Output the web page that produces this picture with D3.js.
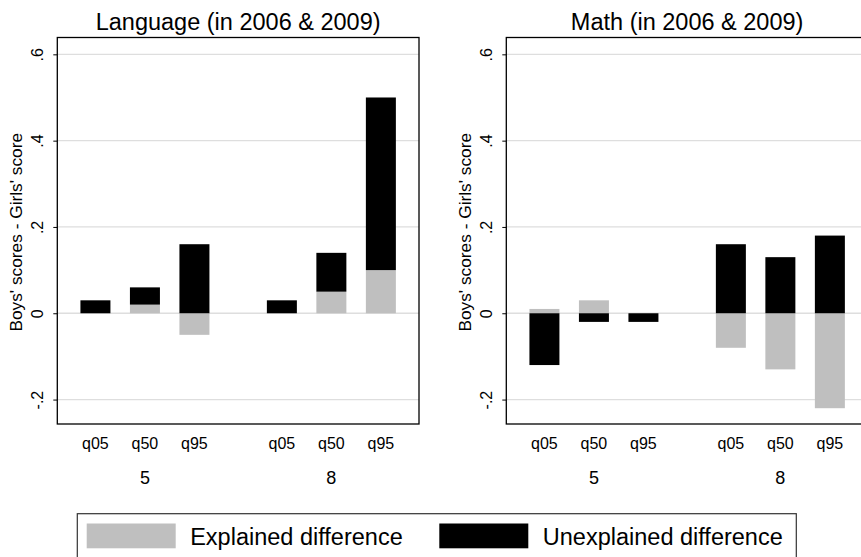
<!DOCTYPE html>
<html>
<head>
<meta charset="utf-8">
<script src="https://cdn.jsdelivr.net/npm/d3@7"></script>
<style>
  html, body { margin: 0; padding: 0; background: #fff; }
  svg { display: block; font-family: "Liberation Sans", Arial, Helvetica, sans-serif; }
</style>
</head>
<body>
<svg id="chart" width="861" height="557"></svg>
<script>
// ---------------- data ----------------
const grades = ["5", "8"];
const quantiles = ["q05", "q50", "q95"];
const seriesNames = ["Explained difference", "Unexplained difference"];
const seriesKeys = ["explained", "unexplained"];
const panelTitles = ["Language (in 2006 & 2009)", "Math (in 2006 & 2009)"];

// order: grade 5 (q05,q50,q95), grade 8 (q05,q50,q95)
const languageExplained   = [0.00, 0.02, -0.05, 0.00, 0.05, 0.10];
const languageUnexplained = [0.03, 0.04,  0.16, 0.03, 0.09, 0.40];
const mathExplained       = [0.01, 0.03,  0.00, -0.08, -0.13, -0.22];
const mathUnexplained     = [-0.12, -0.02, -0.02, 0.16, 0.13, 0.18];

const yTicks = [-0.2, 0, 0.2, 0.4, 0.6];
const yTickLabels = ["-.2", "0", ".2", ".4", ".6"];
const yAxisTitle = "Boys' scores - Girls' score";

// ---------------- layout ----------------
const svg = d3.select("#chart");
const colors = { explained: "#bfbfbf", unexplained: "#000000" };
const panelLeft = [57.3, 506.3];
const panelW = 361.7;
const plotTop = 37.5, plotBottom = 424;

function buildRows(expl, unexpl) {
  const rows = [];
  grades.forEach((g, gi) => quantiles.forEach((q, qi) => {
    const i = gi * quantiles.length + qi;
    rows.push({ grade: g, q: q, explained: expl[i], unexplained: unexpl[i] });
  }));
  return rows;
}

const panels = [
  buildRows(languageExplained, languageUnexplained),
  buildRows(mathExplained, mathUnexplained)
];

const y = d3.scaleLinear().domain([-0.2566, 0.639]).range([plotBottom, plotTop]);
const xGroup = d3.scalePoint().domain(grades).range([0, panelW]).padding(0.47);
const xInner = d3.scaleBand().domain(quantiles).range([-64.5, 64.5]).paddingInner(0.394).paddingOuter(0);

const stack = d3.stack().keys(seriesKeys).offset(d3.stackOffsetDiverging);

panels.forEach((rows, pi) => {
  const g = svg.append("g").attr("transform", `translate(${panelLeft[pi]},0)`);

  // title
  g.append("text")
    .attr("x", panelW / 2).attr("y", 29.5)
    .attr("text-anchor", "middle")
    .attr("font-size", 23.5)
    .attr("fill", "#000")
    .text(panelTitles[pi]);

  // gridlines
  g.append("g").selectAll("line").data(yTicks).join("line")
    .attr("x1", 0).attr("x2", panelW)
    .attr("y1", d => y(d)).attr("y2", d => y(d))
    .attr("stroke", "#dedede").attr("stroke-width", 1.3);

  // bars
  const stacked = stack(rows);
  g.append("g").selectAll("g").data(stacked).join("g")
    .attr("fill", d => colors[d.key])
    .selectAll("rect").data(d => d).join("rect")
      .attr("x", d => xGroup(d.data.grade) + xInner(d.data.q))
      .attr("width", xInner.bandwidth())
      .attr("y", d => y(Math.max(d[0], d[1])))
      .attr("height", d => Math.abs(y(d[0]) - y(d[1])));

  // y axis
  const yAxis = d3.axisLeft(y).tickValues(yTicks).tickSize(4).tickPadding(10)
    .tickFormat((d, i) => yTickLabels[i]);
  const ya = g.append("g").call(yAxis);
  ya.select(".domain").remove();
  ya.selectAll(".tick line").attr("stroke", "#000").attr("stroke-width", 1);
  ya.selectAll(".tick text")
    .attr("font-size", 16)
    .attr("fill", "#000")
    .attr("x", null).attr("dy", null)
    .attr("text-anchor", "middle")
    .attr("transform", "translate(-14,0) rotate(-90)");

  // y axis title
  g.append("text")
    .attr("transform", `translate(${22 - panelLeft[0]},${(plotTop + plotBottom) / 2 + 1.5}) rotate(-90)`)
    .attr("text-anchor", "middle")
    .attr("font-size", 17.3)
    .attr("fill", "#000")
    .text(yAxisTitle);

  // x category labels (quantiles and grades)
  const qLab = g.append("g");
  grades.forEach(gr => {
    quantiles.forEach(q => {
      qLab.append("text")
        .attr("x", xGroup(gr) + xInner(q) + xInner.bandwidth() / 2)
        .attr("y", 449.3)
        .attr("text-anchor", "middle")
        .attr("font-size", 16)
        .attr("fill", "#000")
        .text(q);
    });
    qLab.append("text")
      .attr("x", xGroup(gr))
      .attr("y", 484)
      .attr("text-anchor", "middle")
      .attr("font-size", 18)
      .attr("fill", "#000")
      .text(gr);
  });

  // frame
  g.append("rect")
    .attr("x", 0).attr("y", plotTop)
    .attr("width", panelW).attr("height", plotBottom - plotTop)
    .attr("fill", "none").attr("stroke", "#000").attr("stroke-width", 1.3);
});

// ---------------- legend ----------------
const leg = svg.append("g");
leg.append("rect")
  .attr("x", 77.3).attr("y", 513.7).attr("width", 719).attr("height", 60)
  .attr("fill", "#fff").attr("stroke", "#333").attr("stroke-width", 1.2);
const legX = [86.7, 439.3];
seriesKeys.forEach((k, i) => {
  leg.append("rect")
    .attr("x", legX[i]).attr("y", 523.5).attr("width", 89).attr("height", 24.8)
    .attr("fill", colors[k]);
  leg.append("text")
    .attr("x", legX[i] + 103.5).attr("y", 545)
    .attr("font-size", 23.5)
    .attr("fill", "#000")
    .text(seriesNames[i]);
});
</script>
</body>
</html>
